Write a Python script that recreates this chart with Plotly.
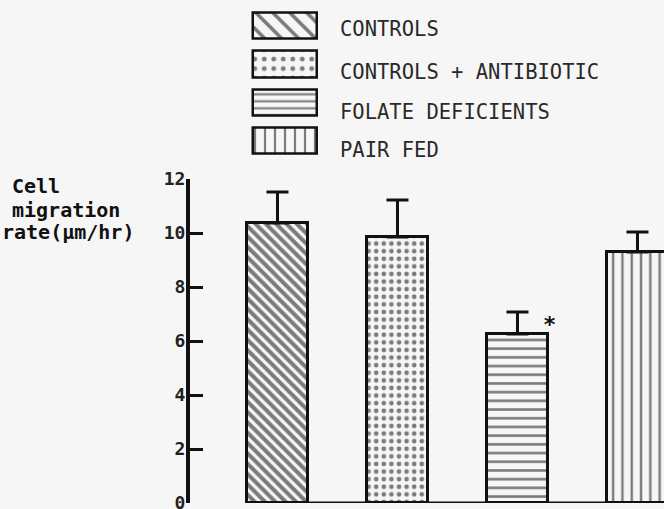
import plotly.graph_objects as go

# ---- data ----
groups = ["CONTROLS", "CONTROLS + ANTIBIOTIC", "FOLATE DEFICIENTS", "PAIR FED"]
rates = [10.37, 9.85, 6.26, 9.30]        # cell migration rate (um/hr)
sem = [1.15, 1.37, 0.81, 0.74]           # upper error bar
y_ticks = [0, 2, 4, 6, 8, 10, 12]
significant = ["", "", "*", ""]
y_label_lines = ["Cell", "migration", "rate(\u00b5m/hr)"]

# ---- styling ----
BG = "#f6f6f6"
INK = "#111111"
MONO = "DejaVu Sans Mono"
shapes_pat = ["\\", ".", "-", "|"]
sizes_pat = [7.3, 7.6, 8.7, 9.3]
solid_pat = [0.55, 0.3, 0.3, 0.26]
legend_sizes = [12, 9.5, 7, 10]
legend_solid = [0.3, 0.2, 0.3, 0.22]
bar_width = 0.51

W, H = 664, 509
ML, MR, MT, MB = 190, 0, 0, 6
PW, PH = W - ML - MR, H - MT - MB


def px_x(p):
    return (p - ML) / PW


def px_y(p):
    return (H - MB - p) / PH


fig = go.Figure()

fig.add_trace(go.Bar(
    x=groups, y=rates, width=bar_width,
    marker=dict(color=BG, line=dict(color=INK, width=3),
                pattern=dict(shape=shapes_pat, size=sizes_pat, solidity=solid_pat,
                             fgcolor="#000", bgcolor=BG)),
    error_y=dict(type="data", symmetric=False, array=sem, arrayminus=[0] * len(sem),
                 thickness=3, width=11, color=INK),
    xaxis="x", yaxis="y", showlegend=False, hoverinfo="skip",
))

# legend swatches drawn as bars on a small auxiliary axis
fig.add_trace(go.Bar(
    y=groups, x=[1] * len(groups), base=0, orientation="h", width=0.68,
    marker=dict(color=BG, line=dict(color=INK, width=2.5),
                pattern=dict(shape=shapes_pat, size=legend_sizes, solidity=legend_solid,
                             fgcolor="#000", bgcolor=BG)),
    xaxis="x2", yaxis="y2", showlegend=False, hoverinfo="skip",
))

annotations = []
legend_shift = [-3.5, -8, -9, -8.5]
for i, g in enumerate(groups):
    annotations.append(dict(
        text=g, xref="paper", yref="y2", x=px_x(338), y=g, yshift=legend_shift[i],
        xanchor="left", yanchor="middle", showarrow=False,
        font=dict(family=MONO, size=20.5, color="#2a2a2a")))

for i, s in enumerate(significant):
    if s:
        annotations.append(dict(
            text=s, xref="x", yref="y", x=groups[i], y=rates[i] + sem[i],
            xshift=32, yshift=-12, showarrow=False,
            font=dict(family=MONO, size=22, color=INK, weight="bold")))

label_x = [10, 10, 0]
label_y = [185.5, 209.5, 232.5]
for t, lx, ly in zip(y_label_lines, label_x, label_y):
    annotations.append(dict(
        text=t, xref="paper", yref="paper", x=px_x(lx), y=px_y(ly),
        xanchor="left", yanchor="middle", showarrow=False,
        font=dict(family=MONO, size=20, color=INK, weight="bold")))

fig.update_layout(
    width=W, height=H,
    margin=dict(l=ML, r=MR, t=MT, b=MB, pad=0, autoexpand=False),
    paper_bgcolor=BG, plot_bgcolor=BG,
    bargap=0,
    xaxis=dict(type="category", range=[-0.729, 3.221], domain=[0, 1],
               showline=False, showticklabels=False, ticks="", showgrid=False,
               zeroline=False, fixedrange=True, automargin=False),
    yaxis=dict(range=[0, 12], domain=[0, px_y(179)], tickvals=y_ticks,
               ticks="inside", ticklen=13, tickwidth=3, tickcolor=INK,
               showline=True, linewidth=4, linecolor=INK, showgrid=False,
               zeroline=False, ticklabelstandoff=-3, automargin=False,
               ticklabeloverflow="allow",
               tickfont=dict(family=MONO, size=18, color="#222", weight="bold")),
    xaxis2=dict(domain=[px_x(250), px_x(320)], range=[-0.047, 1.047], anchor="y2",
                visible=False, automargin=False),
    yaxis2=dict(domain=[px_y(160.2), px_y(6.8)], type="category", range=[3.5, -0.5],
                anchor="x2", visible=False, automargin=False),
    shapes=[dict(type="line", xref="x", yref="y", x0=-bar_width / 2, x1=4,
                 y0=0, y1=0, line=dict(color=INK, width=3), layer="above")],
    annotations=annotations,
)

fig.write_html(
    "out.html",
    config={"displayModeBar": False},
    post_script="document.body.style.margin='0';document.body.style.background='%s';" % BG,
)
